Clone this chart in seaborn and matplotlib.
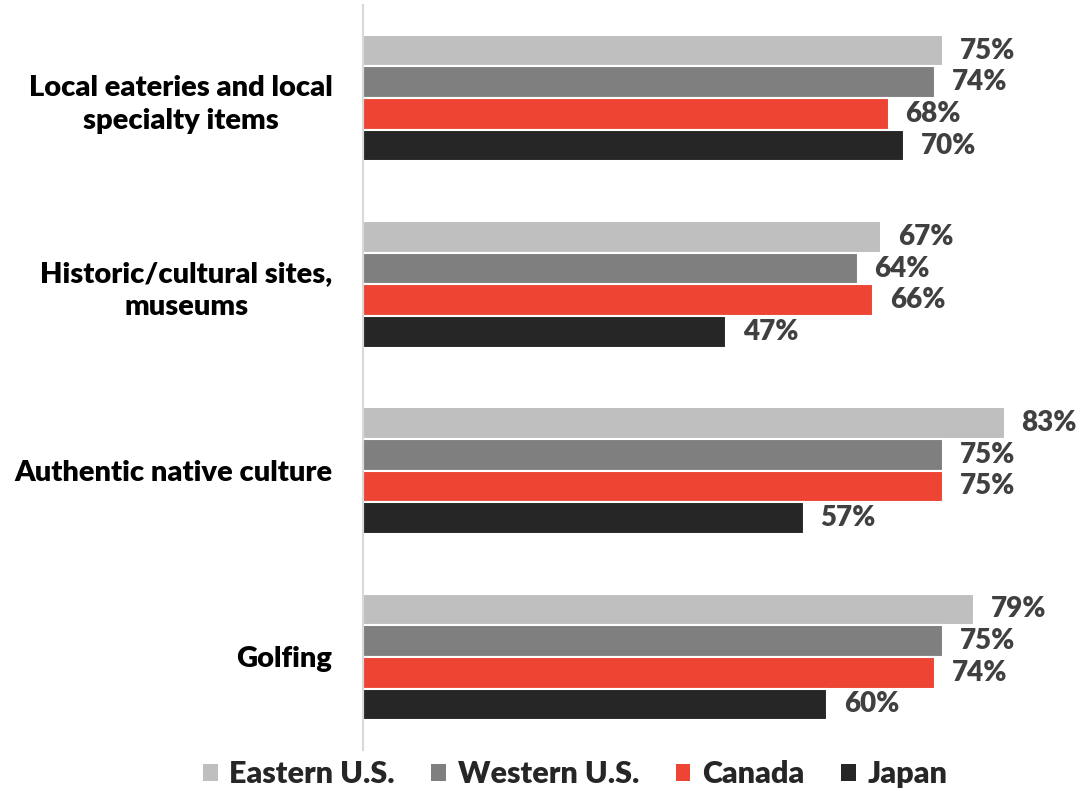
import matplotlib
matplotlib.use("Agg")
import matplotlib.pyplot as plt
from matplotlib.patches import Patch
import seaborn as sns
import pandas as pd

categories = [
    "Local eateries and local\nspecialty items",
    "Historic/cultural sites,\nmuseums",
    "Authentic native culture",
    "Golfing",
]
regions = ["Eastern U.S.", "Western U.S.", "Canada", "Japan"]
eastern_us = [75, 67, 83, 79]
western_us = [74, 64, 75, 75]
canada = [68, 66, 75, 74]
japan = [70, 47, 57, 60]
colors = ["#BFBFBF", "#7F7F7F", "#EE4433", "#262626"]

series = [eastern_us, western_us, canada, japan]
rows = []
for region, vals in zip(regions, series):
    for cat, v in zip(categories, vals):
        rows.append({"Category": cat, "Region": region, "Value": v})
df = pd.DataFrame(rows)

sns.set_theme(style="white")
plt.rcParams["font.family"] = ["Lato", "DejaVu Sans"]

fig = plt.figure(figsize=(10.81, 7.91), dpi=100)
ax = fig.add_axes([363 / 1081, 41 / 791, 696 / 1081, 745 / 791])

sns.barplot(
    data=df, y="Category", x="Value", hue="Region",
    order=categories, hue_order=regions, palette=colors,
    orient="h", width=0.68, edgecolor="white", linewidth=1.5,
    saturation=1, legend=False, ax=ax,
)

ax.set_xlim(0, 90)
ax.set_ylim(3.5, -0.5)
ax.set_xlabel("")
ax.set_ylabel("")
ax.set_xticks([])
for side in ["top", "right", "bottom"]:
    ax.spines[side].set_visible(False)
ax.spines["left"].set_color("#D9D9D9")
ax.spines["left"].set_linewidth(1.5)
ax.tick_params(axis="y", length=0, pad=22)
for lbl in ax.get_yticklabels():
    lbl.set_fontsize(21)
    lbl.set_fontweight("heavy")
    lbl.set_color("black")
    lbl.set_multialignment("center")
    lbl.set_linespacing(1.35)

for container in ax.containers:
    ax.bar_label(
        container, labels=[f"{int(v)}%" for v in container.datavalues],
        padding=12, fontsize=20, fontweight="heavy", color="#404040",
        clip_on=False,
    )

handles = [Patch(facecolor=c, edgecolor="none") for c in colors]
fig.legend(
    handles, regions, loc="center", bbox_to_anchor=(0.532, 0.021),
    ncol=4, frameon=False, handlelength=0.48, handleheight=0.48,
    handletextpad=0.38, columnspacing=1.2,
    prop={"size": 22, "weight": "heavy"},
)

fig.savefig("out.png", dpi=100)
